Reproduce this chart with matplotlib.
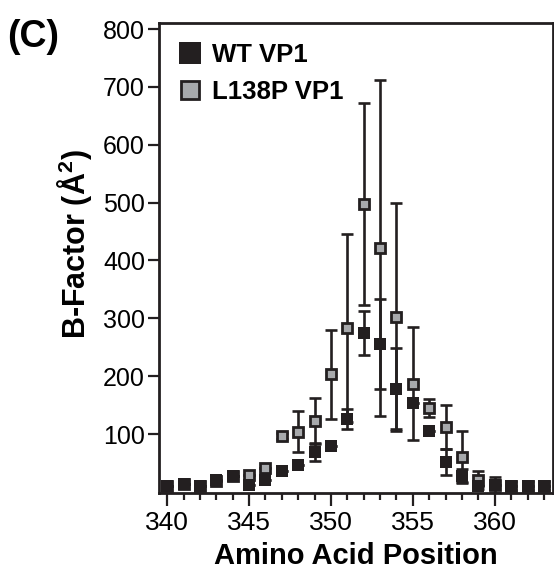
import numpy as np
import matplotlib.pyplot as plt
from matplotlib.ticker import MultipleLocator

plt.rcParams['font.family'] = ['Liberation Sans', 'DejaVu Sans']
plt.rcParams['mathtext.fontset'] = 'custom'
plt.rcParams['mathtext.rm'] = 'Liberation Sans'
plt.rcParams['mathtext.bf'] = 'Liberation Sans:bold'

# dados
posicao = np.arange(340, 364)
wt_bfac = [11, 14, 11, 20, 28, 12, 21, 37, 46, 69, 79, 126,
           275, 256, 178, 154, 105, 52, 28, 11, 12, 11, 11, 11]
wt_err = [0, 0, 0, 0, 0, 0, 0, 0, 0, 15, 0, 18,
          38, 78, 70, 0, 0, 22, 11, 0, 14, 8, 8, 8]
mut_bfac = [11, 13, 11, 19, 27, 30, 42, 96, 104, 122, 203, 283,
            498, 422, 302, 187, 145, 113, 60, 21, 12, 11, 11, 11]
mut_err = [0, 0, 0, 0, 0, 0, 0, 5, 35, 40, 77, 163,
           175, 290, 197, 98, 16, 38, 45, 16, 0, 0, 0, 0]

cor_escura = '#231f20'
cor_cinza = '#a7a9ac'

fig = plt.figure(figsize=(5.54, 5.74), dpi=100)
ax = fig.add_axes([0.287, 0.141, 0.711, 0.8195])

ax.errorbar(posicao, mut_bfac, yerr=mut_err, fmt='none', ecolor=cor_escura,
            elinewidth=1.9, capsize=4.6, capthick=1.9, zorder=2)
ax.errorbar(posicao, wt_bfac, yerr=wt_err, fmt='none', ecolor=cor_escura,
            elinewidth=1.9, capsize=4.6, capthick=1.9, zorder=2)
h_mut, = ax.plot(posicao, mut_bfac, 's', ms=7.8, mfc=cor_cinza, mec=cor_escura,
                 mew=2.0, zorder=3, label='L138P VP1')
h_wt, = ax.plot(posicao, wt_bfac, 's', ms=9.2, mfc=cor_escura, mec=cor_escura,
                mew=0, zorder=4, label='WT VP1')

ax.set_xlim(339.5, 363.55)
ax.set_ylim(-2, 811)
ax.xaxis.set_major_locator(MultipleLocator(5))
ax.xaxis.set_minor_locator(MultipleLocator(1))
ax.set_yticks([100, 200, 300, 400, 500, 600, 700, 800])

for s in ax.spines.values():
    s.set_linewidth(2.0)
    s.set_color(cor_escura)
ax.tick_params(axis='both', which='major', direction='out', length=8, width=1.6,
               color=cor_escura, pad=2)
ax.tick_params(axis='y', labelsize=18)
ax.tick_params(axis='x', which='minor', direction='out', length=5, width=1.6,
               color=cor_escura)
ax.tick_params(axis='x', which='major', length=9, pad=4, labelsize=19)

ax.set_xlabel('Amino Acid Position', fontsize=21, fontweight='bold', labelpad=5)
ax.set_ylabel(r'B-Factor (Å$^{\mathbf{2}}$)', fontsize=22, fontweight='bold')
ax.yaxis.set_label_coords(-0.165, 0.53)

leg = ax.legend(handles=[h_wt, h_mut], loc='upper left', frameon=False,
                prop={'weight': 'bold', 'size': 18.5},
                markerscale=1.7, handlelength=0.8, handletextpad=0.45,
                labelspacing=0.5, borderaxespad=0.4)

fig.text(0.012, 0.935, '(C)', fontsize=27, fontweight='bold', va='center', ha='left')

fig.savefig('out.png', dpi=100)
